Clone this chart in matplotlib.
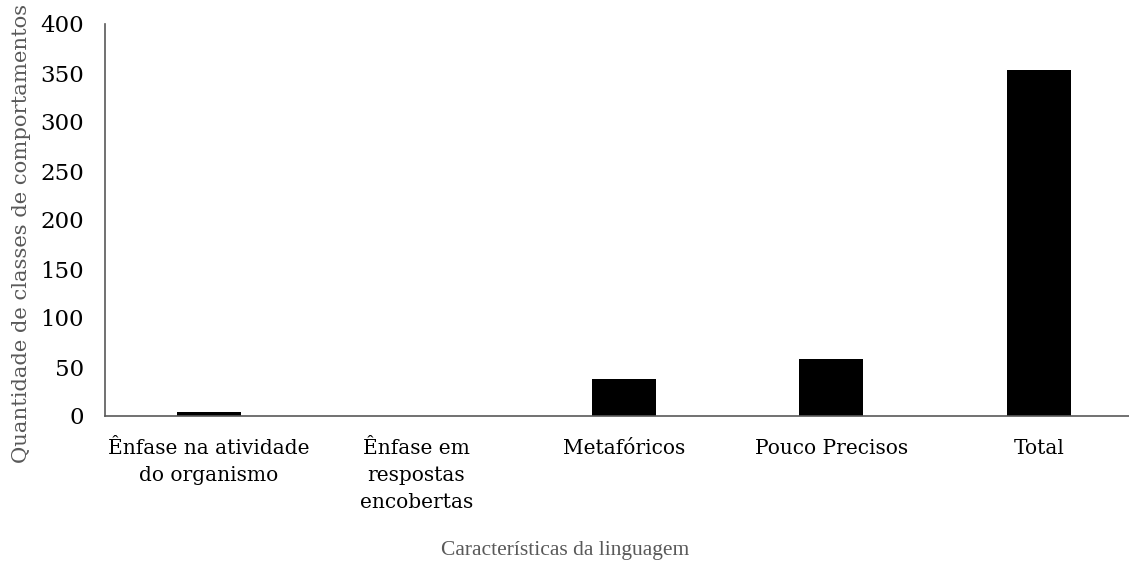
import matplotlib
matplotlib.use("Agg")
import matplotlib.pyplot as plt

categories = ["Ênfase na atividade\ndo organismo", "Ênfase em\nrespostas\nencobertas",
              "Metafóricos", "Pouco Precisos", "Total"]
values = [4, 0, 38, 58, 353]
yticks = [0, 50, 100, 150, 200, 250, 300, 350, 400]

plt.rcParams['font.family'] = ['DejaVu Serif']

fig = plt.figure(figsize=(11.29, 5.65), dpi=100)
ax = fig.add_axes([105/1129, 1-416/565, 1037.5/1129, 392/565])
x = list(range(len(categories)))
ax.bar(x, values, width=0.31, color='black')
ax.set_xlim(-0.5, len(categories) - 0.5)
ax.set_ylim(0, 400)
ax.set_yticks(yticks)
ax.set_xticks(x)
ax.set_xticklabels(categories, fontsize=14.5, linespacing=1.55)
ax.tick_params(axis='y', labelsize=16.5, length=0, pad=15)
ax.tick_params(axis='x', length=0, pad=16.5)
for s in ['top', 'right']:
    ax.spines[s].set_visible(False)
for s in ['left', 'bottom']:
    ax.spines[s].set_color('#595959')
    ax.spines[s].set_linewidth(1.2)

fig.text(22/1129, 1-233/565, "Quantidade de classes de comportamentos", rotation=90,
         ha='center', va='center', fontsize=15.2, color='#595959')
fig.text(565/1129, 1-550/565, "Características da linguagem",
         ha='center', va='center', fontsize=15.5, color='#595959',
         family=['Liberation Serif', 'DejaVu Serif'])

fig.savefig("out.png", dpi=100)
